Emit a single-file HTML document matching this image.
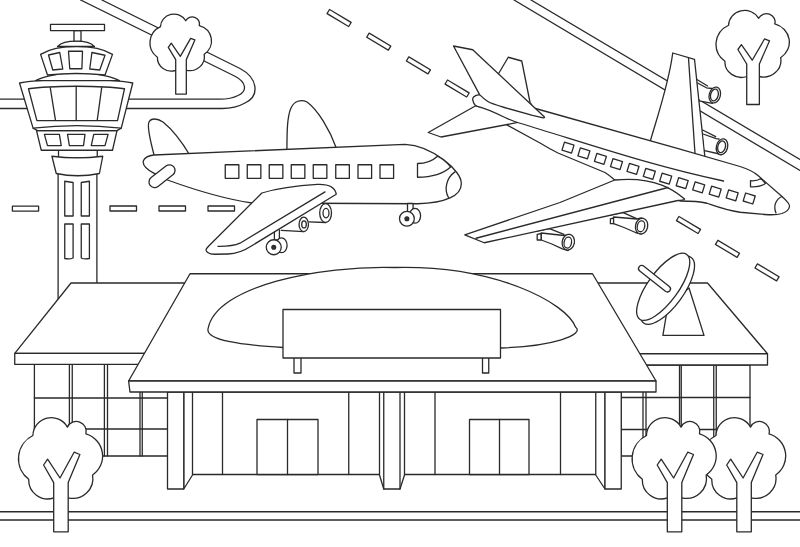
<!DOCTYPE html>
<html><head><meta charset="utf-8"><title>Airport</title>
<style>
html,body{margin:0;padding:0;background:#fff;width:800px;height:547px;overflow:hidden;font-family:"Liberation Sans",sans-serif;}
svg{display:block}
</style></head><body>
<svg width="800" height="547" viewBox="0 0 800 547">

<g fill="#fff" stroke="#2a2a2a" stroke-width="1.3" stroke-linejoin="round" stroke-linecap="round">

<!-- ROAD LOOP top-left -->
<path fill="none" d="M101.9,0 L240,68.5 C258,78 260,96 245,103 C238,107 232,108.5 222,108.5 L0,108.5"/>
<path fill="none" d="M80.6,0 L235,76.25 C246,82 248,91 238,95.5 C232,98.6 227,99.2 220,99.2 L0,99.2"/>

<!-- top-right band -->
<path fill="none" d="M531,0 L800,159.5"/>
<path fill="none" d="M514,0 L800,170.5"/>

<!-- horizontal runway dashes -->
<rect x="12.4" y="206.2" width="26.2" height="4.9"/>
<rect x="110" y="206" width="26.5" height="5"/>
<rect x="159" y="206" width="26.5" height="5"/>
<rect x="208" y="206" width="26.5" height="5"/>

<!-- diagonal dashes -->
<g transform="translate(339.1,18) rotate(30.9)"><rect x="-12.6" y="-2.4" width="25.2" height="4.8"/></g>
<g transform="translate(378.75,41.7) rotate(30.9)"><rect x="-12.6" y="-2.4" width="25.2" height="4.8"/></g>
<g transform="translate(418.4,65.4) rotate(30.9)"><rect x="-12.6" y="-2.4" width="25.2" height="4.8"/></g>
<g transform="translate(457.1,88.5) rotate(30.9)"><rect x="-12.6" y="-2.4" width="25.2" height="4.8"/></g>
<g transform="translate(688.5,225) rotate(30.9)"><rect x="-12.6" y="-2.4" width="25.2" height="4.8"/></g>
<g transform="translate(727.5,248.8) rotate(30.9)"><rect x="-12.6" y="-2.4" width="25.2" height="4.8"/></g>
<g transform="translate(767,272.4) rotate(30.9)"><rect x="-12.6" y="-2.4" width="25.2" height="4.8"/></g>

<!-- top trees -->
<g transform="translate(149.5,13.7) scale(0.732,0.70)"><path vector-effect="non-scaling-stroke" d="M15,18.5 A18.4,18.4 0 0 1 49.5,10.1 A9.9,9.9 0 0 1 68,16.9 A23,23 0 0 1 74.7,58 A20,20 0 0 1 50.3,80.8 L36,80.8 A18.9,18.9 0 0 1 10.8,62.3 A25.9,25.9 0 0 1 15,18.5 Z"/>
<path vector-effect="non-scaling-stroke" d="M35.8,114.8 L35.8,65.6 L25.7,48 L29.7,42.2 L42.1,61 L56.2,35.2 L62,37.5 L50.3,65.6 L50.3,114.8 Z"/></g>
<g transform="translate(715.5,10) scale(0.872,0.823)"><path vector-effect="non-scaling-stroke" d="M15,18.5 A18.4,18.4 0 0 1 49.5,10.1 A9.9,9.9 0 0 1 68,16.9 A23,23 0 0 1 74.7,58 A20,20 0 0 1 50.3,80.8 L36,80.8 A18.9,18.9 0 0 1 10.8,62.3 A25.9,25.9 0 0 1 15,18.5 Z"/>
<path vector-effect="non-scaling-stroke" d="M35.8,114.8 L35.8,65.6 L25.7,48 L29.7,42.2 L42.1,61 L56.2,35.2 L62,37.5 L50.3,65.6 L50.3,114.8 Z"/></g>

<!--TOWER-->
<g id="tower">
<rect x="58.1" y="165" width="38.8" height="140"/>
<path d="M64.75,181.25 L73.1,182.5 L73.1,216 L64.75,216 Z"/>
<path d="M81.25,182.5 L89.4,181.25 L89.4,216 L81.25,216 Z"/>
<path d="M64.75,224 L73.1,224 L73.1,258 C70,259.5 67,259 64.75,258.5 Z"/>
<path d="M81.25,224 L89.4,224 L89.4,258.5 C87,259 84,259.5 81.25,258 Z"/>
<rect x="58.5" y="148" width="38.75" height="10"/>
<path d="M51.9,156.25 Q77,159.5 102.75,156.25 L99.4,173.5 Q77.5,178 56.25,173.5 Z"/>
<path d="M36.5,130.6 L117,130.6 L112.5,150.25 L41.25,150.25 Z"/>
<path d="M44.4,134.4 L59.4,134.4 L61.25,145.6 L47.5,145.6 Z"/>
<path d="M67.5,134.4 L85,134.4 L83.5,145.6 L69.4,145.6 Z"/>
<path d="M93.75,134.4 L108.1,134.4 L105,145.6 L91.25,145.6 Z"/>
<path d="M33.1,128.1 L37.5,130.6 L117,130.6 L121.25,128.1"/>
<path d="M19.5,83 C45,78.2 107,78.2 132.75,83 L121.25,128.1 Q77,123 33.1,128.1 Z"/>
<path d="M28.5,88.75 C50,85.4 103,85.4 124.5,88.75 L117.5,120.6 L36.9,120.6 Z"/>
<path fill="none" d="M50.25,87.6 L55.5,120.3 M76.2,86.5 L76.2,120.3 M101.7,87.6 L97.2,120.3"/>
<path d="M35.6,80.6 C55,70.5 100,70.5 119.4,80.6 Z"/>
<path d="M40.6,54.4 C58,43.8 95,43.8 112.5,54.4 L105,75 Q76.25,72 47.5,75 Z"/>
<path d="M48.5,55 L59.75,52.5 L62.75,69 L52.75,70 Z"/>
<path d="M68.5,51.25 L82.5,51.25 L81.9,68.75 L69.75,68.75 Z"/>
<path d="M91.9,52.5 L105,55.25 L99.75,70 L89.75,69 Z"/>
<path d="M57.5,46.5 C62,42 70,41.2 76.25,41.2 C83,41.2 90,42 94.5,46.5 Z"/>
<rect x="74" y="30.6" width="7" height="10.6"/>
<rect x="50.5" y="24.4" width="54" height="6.2"/>
</g>
<!--PLANE1-->
<g id="plane1">
<path d="M154.6,157 C150,140 147,126 149,122 C151,118 157,118 163,122 C173,130 182,142 190,155.5 Z"/>
<path d="M286.9,151 C287,132 287,117 291,108 C294,101 301,99 307,102 C318,110 330,130 336.5,148.5 Z"/>
<path d="M153.75,155 L405,144.4 C432.1,145.7 462.4,171.2 461.25,183.75 C461.6,195.5 445.6,202.8 417.5,203.75 L252,203 C225,199 195,190 167.5,180 L153.75,173.1 C146,169 142,165 143.5,160.5 C145,157 149,155.5 153.75,155 Z"/>
<g transform="translate(162,176.2) rotate(-38)"><rect x="-15" y="-5.6" width="30" height="11.2" rx="5.6"/></g>
<rect x="225.25" y="164.75" width="13.6" height="13.6"/>
<rect x="247.25" y="164.75" width="13.6" height="13.6"/>
<rect x="269.25" y="164.75" width="13.6" height="13.6"/>
<rect x="291.25" y="164.75" width="13.6" height="13.6"/>
<rect x="313.25" y="164.75" width="13.6" height="13.6"/>
<rect x="335.75" y="164.75" width="13.6" height="13.6"/>
<rect x="358" y="164.75" width="13.6" height="13.6"/>
<rect x="380" y="164.75" width="13.6" height="13.6"/>
<path d="M417.5,163.5 C426,163.5 433,160.5 437.5,156.25 Q445,160 450.6,166.9 C444,173 432,177 417.5,177.25 Z"/>
<path fill="none" d="M455,171.9 C446,178 444,190 448.5,197.5"/>
<!-- nose gear -->
<rect x="407.5" y="203.5" width="5.6" height="9"/>
<ellipse cx="415" cy="215.8" rx="5.6" ry="7.4"/>
<circle cx="406.9" cy="218.75" r="7.4"/>
<circle cx="406.9" cy="218.75" r="1.9" fill="#333"/>
<!-- main gear -->
<rect x="274.4" y="226" width="5" height="14"/>
<ellipse cx="281.5" cy="245.3" rx="5.6" ry="7.4"/>
<circle cx="273.75" cy="247.25" r="7.5"/>
<circle cx="273.75" cy="247.25" r="1.9" fill="#333"/>
<!-- outer engine -->
<path stroke="none" d="M300,215 L321,203.1 L325.6,203.7 L325.6,222.5 L308.75,221.9 Z"/><path fill="none" d="M321,203.1 L325.6,203.7 M325.6,222.5 L308.75,221.9"/>
<ellipse cx="325.6" cy="213.1" rx="5.9" ry="9.4"/>
<ellipse cx="326" cy="213.1" rx="3" ry="4.7"/>
<!-- inner engine -->
<path stroke="none" d="M278,228.5 L300,215.5 L303.75,217.2 L303.75,231.6 L281.25,230.5 Z"/><path fill="none" d="M303.75,231.6 L281.25,230.3"/>
<ellipse cx="303.75" cy="224.4" rx="4.7" ry="7.2"/>
<ellipse cx="304" cy="224.4" rx="2.3" ry="3.5"/>
<!-- wing -->
<path d="M208.75,246 L261.9,193 C275,189 290,186 317.5,184.4 C328,184 335,187 336.25,194.2 L250.5,246.5 C244,250.8 238,253.6 228,254 L215,254.25 C209,254.3 204,251.5 207,248 Z"/>
<path fill="none" d="M218,246.4 C225,246.5 233,246.3 240,243.2 L325,191.9"/>
</g>
<!--PLANE2-->
<g id="plane2">
<!-- far wing -->
<path d="M672.75,53 L694.5,59.3 L705,158 L650,142 C657.6,115.7 668.6,84.4 672.75,53 Z"/>
<path fill="none" d="M688.5,58.25 L695,153.5"/>
<!-- far engine 1 -->
<path stroke="none" d="M697.8,79.5 L707.6,86 L714,88 L714,103 L700,100.9 Z"/>
<path fill="none" d="M696.9,79.5 L707.6,86 M697.5,83 L706.4,87.8 L712,88.5 M699.2,100.9 L712.3,103.3"/>
<ellipse cx="714.8" cy="95" rx="5.6" ry="8.1" transform="rotate(15 714.8 95)"/>
<ellipse cx="714.4" cy="95" rx="3.8" ry="6" transform="rotate(15 714.4 95)"/>
<!-- far engine 2 -->
<path stroke="none" d="M703,130 L715.7,136.6 L721,138.5 L721,154 L705.2,150.7 Z"/>
<path fill="none" d="M702.6,130 L715.7,136.6 M703,134 L716.2,138.6 L719,139 M704.6,150.7 L719.5,154"/>
<ellipse cx="722" cy="146.8" rx="5.6" ry="8.1" transform="rotate(15 722 146.8)"/>
<ellipse cx="721.6" cy="146.8" rx="3.8" ry="6" transform="rotate(15 721.6 146.8)"/>
<!-- vertical fin -->
<path d="M498.5,73.75 L508.25,57.25 L521.75,61 L530,102.25 L536,112 L495,90 Z"/>
<!-- fuselage -->
<path d="M479.6,94.6 C474,95 472,98 472.9,100.5 C473.5,103 474.5,105 475.7,105.8 L507,125 L540,143 Q549,148.5 558,153 L605,172.5 Q609,175 614.75,180 L680,201 C690,201 700,201.5 707,203.25 C715,206 725,210 740,212.25 L765,214.5 C772,215 777,215 782,213.5 C786,212 789,210 789.5,206.5 C790,204 787,201 782,196.5 L758,175.5 C754,172 748,169 740,166.5 L680,149.2 L537.25,109 Z"/>
<!-- lower stabilizer -->
<path stroke="none" d="M475.5,106 L428.25,132.5 L441,137 L516.7,122.7 Z"/>
<path fill="none" d="M475.7,105.8 L428.25,132.5 L441,137 L516.7,122.7"/>
<!-- upper stabilizer + tail pod -->
<path d="M453.5,46 L472.7,49.75 L543.7,116.3 C545,117.5 544.5,118 543.2,117.8 L532.5,115.4 L504.4,107.5 C496,105 490,103 487.5,101.3 C484,99 481.5,96.5 479.6,94.6 Z"/>
<!-- window stripe -->
<path fill="none" d="M475.7,105.8 C487,108.5 496,113 505,117.5 C510,120 513,121.2 520,123.25 C591,144.7 651.1,165.6 723.5,181"/>
<!-- windows -->
<g id="w2">
<g transform="translate(568,147.6) rotate(17)"><rect x="-5" y="-4.2" width="10" height="8.4"/></g>
<g transform="translate(583.9,153.4) rotate(17)"><rect x="-5" y="-4.2" width="10" height="8.4"/></g>
<g transform="translate(600.4,158.9) rotate(17)"><rect x="-5" y="-4.2" width="10" height="8.4"/></g>
<g transform="translate(616.5,164.1) rotate(17)"><rect x="-5" y="-4.2" width="10" height="8.4"/></g>
<g transform="translate(633,168.9) rotate(17)"><rect x="-5" y="-4.2" width="10" height="8.4"/></g>
<g transform="translate(649.3,173.8) rotate(17)"><rect x="-5" y="-4.2" width="10" height="8.4"/></g>
<g transform="translate(665.7,178.7) rotate(17)"><rect x="-5" y="-4.2" width="10" height="8.4"/></g>
<g transform="translate(682.2,183.2) rotate(17)"><rect x="-5" y="-4.2" width="10" height="8.4"/></g>
<g transform="translate(698.7,187.4) rotate(17)"><rect x="-5" y="-4.2" width="10" height="8.4"/></g>
<g transform="translate(715.2,191.6) rotate(17)"><rect x="-5" y="-4.2" width="10" height="8.4"/></g>
<g transform="translate(732.2,195.4) rotate(17)"><rect x="-5" y="-4.2" width="10" height="8.4"/></g>
<g transform="translate(749.2,198.5) rotate(17)"><rect x="-5" y="-4.2" width="10" height="8.4"/></g>
</g>
<!-- cockpit -->
<path d="M750.5,180.75 C754,181 758,180.5 761,178.5 L765.5,183.5 C762,186 756,187 750.5,186.75 Z"/>
<path fill="none" d="M782,196.5 C776,199 773,206 776,213"/>
<!-- near engines -->
<g>
<path fill="none" d="M536.4,231 L549.4,228.6 L564,234.3"/>
<path d="M537.2,234.3 L541.3,233.5 L541.3,240 L537.2,240 Z"/>
<path d="M541.3,233 L564,235.5 L568.1,234.3 L568.1,250.5 L562.4,248.9 L551.8,244 L541.3,240 Z"/>
<ellipse cx="568.3" cy="242.2" rx="6.1" ry="7.9" transform="rotate(12 568.3 242.2)"/>
<ellipse cx="567.8" cy="242.6" rx="3.7" ry="5.5" transform="rotate(12 567.8 242.6)"/>
</g>
<g>
<path fill="none" d="M610,215 L622.6,212.3 L637.2,218.8"/>
<path d="M610.4,218.8 L613.6,218 L613.6,223.7 L610.4,223.7 Z"/>
<path d="M613.6,217 L637,219 L641.3,218 L641.3,234 L635.5,232.5 L624,227.5 L613.6,223.7 Z"/>
<ellipse cx="641.6" cy="226.1" rx="6.1" ry="7.9" transform="rotate(12 641.6 226.1)"/>
<ellipse cx="641" cy="226.3" rx="3.7" ry="5.5" transform="rotate(12 641 226.3)"/>
</g>
<!-- near wing -->
<path d="M614.75,180 C659.4,175.4 678.8,194.4 684.5,198.8 C685,200 680,200.5 678,200.5 L484.25,242.75 L464.75,234.8 L560,202.5 Z"/>
<path fill="none" d="M476,238.25 L668,187.5"/>
</g>
<!--BUILDING-->
<g id="building">
<!-- left wing -->
<rect x="34.4" y="364.4" width="134" height="91.6"/>
<path fill="none" d="M69.4,364.4 V456 M72.25,364.4 V456 M104.4,364.4 V456 M107.5,364.4 V456 M140,364.4 V456 M142.25,364.4 V456 M34.4,398 H168 M34.4,429 H168"/>
<path d="M71,283 L188,283 L148,353.4 L14.75,353.4 Z"/>
<rect x="14.75" y="353.4" width="132" height="11"/>
<!-- right wing -->
<rect x="621.25" y="365" width="128.75" height="91"/>
<path fill="none" d="M643,365 V456 M646,365 V456 M679.5,365 V456 M681.25,365 V456 M713.75,365 V456 M716.25,365 V456 M621.25,397.5 H750 M621.25,429.5 H750"/>
<path d="M595,283 L707.5,283 L767.5,353.75 L637,353.75 Z"/>
<rect x="636" y="353.75" width="131.5" height="11.25"/>
<!-- main facade wall -->
<rect x="183.75" y="392" width="421.25" height="82.5"/>
<path fill="none" d="M222.5,392 V474.5 M348.75,392 V474.5 M435,392 V474.5 M560.5,392 V474.5"/>
<rect x="257" y="419.5" width="61" height="55"/>
<path fill="none" d="M287.5,419.5 V474.5"/>
<rect x="469.5" y="419.5" width="59.5" height="55"/>
<path fill="none" d="M499.5,419.5 V474.5"/>
<!-- center pillar -->
<path d="M379.5,392 L404.5,392 L404.5,475 L400,489 L383.75,489 L379.5,475 Z"/>
<path fill="none" d="M383.75,392 V489 M400,392 V489"/>
<!-- left pillar -->
<path d="M183.75,392 L192.5,392 L192.5,475 L183.75,489 Z"/>
<rect x="167.5" y="392" width="16.25" height="97"/>
<!-- right pillar -->
<path d="M595.75,392 L605,392 L605,489 L595.75,475 Z"/>
<rect x="605" y="392" width="16.25" height="97"/>
<!-- main roof -->
<path d="M190,273.75 L592.5,273.75 L656,381 L128.6,381 Z"/>
<path d="M128.6,381 L656,381 L656,392 L130,392 Z"/>
<!-- dome -->
<path d="M208,329 C215.5,285.7 321,265.2 395,267.5 C495.5,265.1 566.2,302.7 575.5,327 C585.6,334.8 552.1,346.3 501,348 L283,347.5 C240,345 206,340 208,329 Z"/>
<!-- sign -->
<rect x="294" y="350" width="7" height="23"/>
<rect x="482.5" y="350" width="6.25" height="23"/>
<rect x="283" y="309.5" width="217.5" height="48.5"/>
<!-- satellite dish -->
<path d="M662.9,335.4 L704,335.4 L689,288 L668,305 Z"/>
<ellipse cx="667.4" cy="290.2" rx="40.5" ry="16" transform="rotate(-54 667.4 290.2)"/>
<ellipse cx="663.2" cy="286.8" rx="40" ry="15.2" transform="rotate(-54 663.2 286.8)"/>
<g transform="translate(654.5,278.7) rotate(38.5)"><rect x="-19.5" y="-3.1" width="39" height="6.2" rx="3.1"/></g>
</g>
<!--GROUND-->
<path fill="none" d="M0,511.75 H800 M0,520 H800"/>
<g transform="translate(17.9,417)"><path vector-effect="non-scaling-stroke" d="M15,18.5 A18.4,18.4 0 0 1 49.5,10.1 A9.9,9.9 0 0 1 68,16.9 A23,23 0 0 1 74.7,58 A20,20 0 0 1 50.3,80.8 L36,80.8 A18.9,18.9 0 0 1 10.8,62.3 A25.9,25.9 0 0 1 15,18.5 Z"/>
<path vector-effect="non-scaling-stroke" d="M35.8,114.8 L35.8,65.6 L25.7,48 L29.7,42.2 L42.1,61 L56.2,35.2 L62,37.5 L50.3,65.6 L50.3,114.8 Z"/></g>
<g transform="translate(701,417)"><path vector-effect="non-scaling-stroke" d="M15,18.5 A18.4,18.4 0 0 1 49.5,10.1 A9.9,9.9 0 0 1 68,16.9 A23,23 0 0 1 74.7,58 A20,20 0 0 1 50.3,80.8 L36,80.8 A18.9,18.9 0 0 1 10.8,62.3 A25.9,25.9 0 0 1 15,18.5 Z"/>
<path vector-effect="non-scaling-stroke" d="M35.8,114.8 L35.8,65.6 L25.7,48 L29.7,42.2 L42.1,61 L56.2,35.2 L62,37.5 L50.3,65.6 L50.3,114.8 Z"/></g>
<g transform="translate(631.5,417)"><path vector-effect="non-scaling-stroke" d="M15,18.5 A18.4,18.4 0 0 1 49.5,10.1 A9.9,9.9 0 0 1 68,16.9 A23,23 0 0 1 74.7,58 A20,20 0 0 1 50.3,80.8 L36,80.8 A18.9,18.9 0 0 1 10.8,62.3 A25.9,25.9 0 0 1 15,18.5 Z"/>
<path vector-effect="non-scaling-stroke" d="M35.8,114.8 L35.8,65.6 L25.7,48 L29.7,42.2 L42.1,61 L56.2,35.2 L62,37.5 L50.3,65.6 L50.3,114.8 Z"/></g>
</g>
</svg>
</body></html>
